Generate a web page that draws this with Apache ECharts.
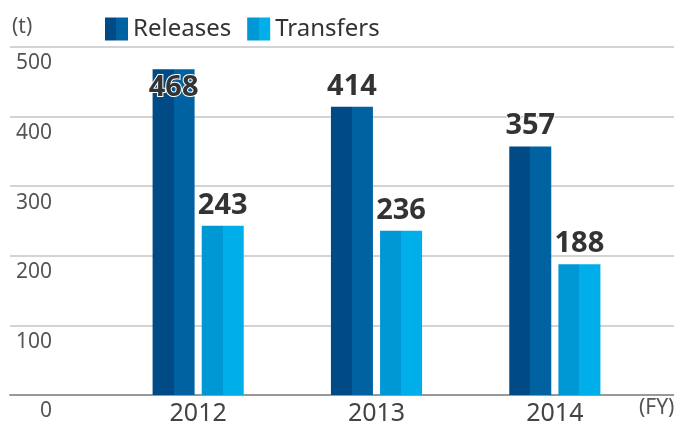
<!DOCTYPE html>
<html>
<head>
<meta charset="utf-8">
<script src="https://cdn.jsdelivr.net/npm/echarts@6/dist/echarts.min.js"></script>
<style>
    html, body { margin: 0; padding: 0; background: #fff; }
    #chart { width: 674px; height: 426px; }
</style>
</head>
<body>
<div id="chart"></div>
<script>
    // 数据
    var years = ['2012', '2013', '2014'];
    var releases = [468, 414, 357];
    var transfers = [243, 236, 188];
    var yTicks = [0, 100, 200, 300, 400, 500];

    var FONT = '"Noto Sans", "Open Sans", sans-serif';

    // 两色柱子（左深右浅）
    function twoTone(dark, light) {
        return new echarts.graphic.LinearGradient(0, 0, 1, 0, [
            {offset: 0, color: dark},
            {offset: 0.5, color: dark},
            {offset: 0.5, color: light},
            {offset: 1, color: light}
        ]);
    }

    var labelStyle = {
        show: true,
        position: 'top',
        distance: 6,
        fontFamily: FONT,
        fontSize: 29,
        fontWeight: 'bold',
        color: '#333',
        textBorderColor: '#fff',
        textBorderWidth: 2
    };

    // 第一根柱子太高，标签放在柱子里
    var releaseData = releases.map(function (v, i) {
        if (i === 0) {
            return {value: v, label: {position: 'insideTop', distance: 4}};
        }
        return v;
    });

    var chart = echarts.init(document.getElementById('chart'));
    var option = {
        animation: false,
        legend: {
            left: 100,
            top: 12,
            icon: 'rect',
            itemWidth: 23,
            itemHeight: 23,
            itemGap: 16,
            textStyle: {fontFamily: FONT, fontSize: 24, color: '#333'},
            data: ['Releases', 'Transfers']
        },
        grid: [
            {left: 10, right: 0, top: 47, bottom: 31},
            {left: 109, right: 30, top: 47, bottom: 31}
        ],
        xAxis: [
            {
                gridIndex: 0, type: 'value', min: 0, max: 1,
                axisLine: {show: true, onZero: false, lineStyle: {color: '#999', width: 2}},
                axisTick: {show: false}, axisLabel: {show: false}, splitLine: {show: false}
            },
            {
                gridIndex: 1, type: 'category', data: years,
                axisLine: {show: false}, axisTick: {show: false},
                axisLabel: {fontFamily: FONT, fontSize: 25, color: '#444', margin: 6}
            }
        ],
        yAxis: [
            {
                gridIndex: 0, min: yTicks[0], max: yTicks[yTicks.length - 1], interval: 100,
                axisLine: {show: false}, axisTick: {show: false},
                splitLine: {lineStyle: {color: '#d3d3d3', width: 2}},
                axisLabel: {
                    inside: true, margin: 42, align: 'right', verticalAlign: 'top', padding: [6, 0, 0, 0],
                    fontFamily: FONT, fontSize: 21, color: '#555'
                }
            },
            {
                gridIndex: 1, min: yTicks[0], max: yTicks[yTicks.length - 1], interval: 100,
                show: false
            }
        ],
        graphic: [
            {type: 'text', left: 12, top: 17, style: {text: '(t)', font: '21px ' + FONT, fill: '#555'}},
            {type: 'text', left: 639, top: 398, style: {text: '(FY)', font: '21px ' + FONT, fill: '#555'}}
        ],
        series: [
            {
                name: 'Releases', type: 'bar', xAxisIndex: 1, yAxisIndex: 1,
                barWidth: 42, barGap: '17%',
                itemStyle: {color: twoTone('#004a86', '#0062a1')},
                label: labelStyle,
                data: releaseData
            },
            {
                name: 'Transfers', type: 'bar', xAxisIndex: 1, yAxisIndex: 1,
                barWidth: 42, barGap: '17%',
                itemStyle: {color: twoTone('#0097d5', '#00afea')},
                label: labelStyle,
                data: transfers
            }
        ]
    };
    chart.setOption(option);
</script>
</body>
</html>
